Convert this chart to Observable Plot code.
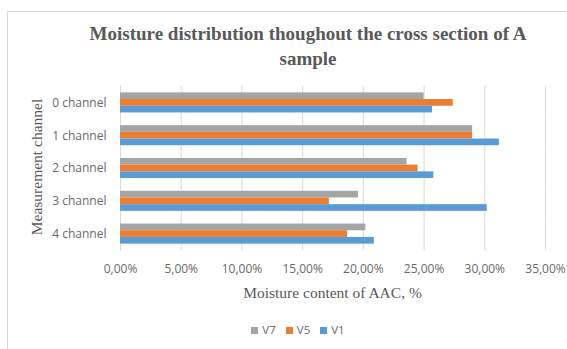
<!DOCTYPE html>
<html>
<head>
<meta charset="utf-8">
<script src="https://cdn.jsdelivr.net/npm/d3@7"></script>
<script src="https://cdn.jsdelivr.net/npm/@observablehq/plot@0.6"></script>
<style>
  html, body { margin: 0; padding: 0; background: #fff; }
  #page { position: relative; width: 567px; height: 349px; overflow: hidden; background: #fff; }
  #frame { position: absolute; left: 7px; top: 11px; width: 600px; height: 345px; border: 1px solid #d9d9d9; box-sizing: border-box; }
  #title { position: absolute; left: 7px; width: 602px; top: 21px; text-align: center;
           font-family: "Liberation Serif", "Times New Roman", serif; font-weight: bold;
           font-size: 19px; line-height: 25px; color: #595959; }
  #ytitle { position: absolute; left: 37px; top: 167px; transform: translate(-50%, -50%) rotate(-90deg);
            white-space: nowrap; font-family: "Liberation Serif", serif; font-size: 15.5px; color: #595959; }
  #xtitle { position: absolute; left: 120px; width: 425px; top: 284px; text-align: center;
            font-family: "Liberation Serif", serif; font-size: 15.5px; color: #595959; }
  #legend { position: absolute; left: 7px; width: 582px; top: 322px; text-align: center;
            font-family: "Open Sans", sans-serif; font-size: 11.5px; color: #6a6a6a; }
  #legend span.item { margin: 0 5px; }
  #legend span.sw { display: inline-block; width: 7px; height: 7px; margin-right: 4px; vertical-align: 0px; }
  #chart { position: absolute; left: 0; top: 0; }
</style>
</head>
<body>
<div id="page">
  <div id="frame"></div>
  <div id="chart"></div>
  <div id="title">Moisture distribution thoughout the cross section of A<br>sample</div>
  <div id="ytitle">Measurement channel</div>
  <div id="xtitle">Moisture content of AAC, %</div>
  <div id="legend"></div>
</div>
<script>
// Measurement channels, top to bottom
const channels = ["0 channel", "1 channel", "2 channel", "3 channel", "4 channel"];
// Series, in the order they are stacked within each channel group
const seriesNames = ["V7", "V5", "V1"];
const seriesColors = ["#a5a5a5", "#ed7d31", "#5b9bd5"];
// Moisture content (fraction) per channel
const v7 = [0.250, 0.290, 0.236, 0.196, 0.202];
const v5 = [0.274, 0.290, 0.245, 0.172, 0.187];
const v1 = [0.257, 0.312, 0.258, 0.302, 0.209];
// X axis ticks
const xTicks = [0, 0.05, 0.10, 0.15, 0.20, 0.25, 0.30, 0.35];

const values = {V7: v7, V5: v5, V1: v1};
const rows = [];
channels.forEach((c, i) => {
  seriesNames.forEach(s => rows.push({channel: c, series: s, value: values[s][i]}));
});

const pct = d3.formatLocale({decimal: ",", thousands: " ", grouping: [3], currency: ["", ""]}).format(".2%");

const chart = Plot.plot({
  width: 567,
  height: 280,
  marginLeft: 120,
  marginRight: 22,
  marginTop: 86,
  marginBottom: 30,
  style: {background: "transparent", fontFamily: "'Open Sans', sans-serif", fontSize: "12px", color: "#6a6a6a"},
  x: {domain: [0, 0.35]},
  y: {domain: seriesNames, paddingInner: 0, paddingOuter: 0.95, round: false, axis: null},
  fy: {domain: channels, padding: 0, round: false},
  color: {domain: seriesNames, range: seriesColors},
  marks: [
    Plot.gridX(xTicks, {stroke: "#d9d9d9", strokeOpacity: 1}),
    Plot.barX(rows, {x: "value", y: "series", fy: "channel", fill: "series", insetTop: 0, insetBottom: 0}),
    Plot.axisFy({anchor: "left", tickSize: 0, tickPadding: 14, label: null}),
    Plot.axisX(xTicks, {tickSize: 0, tickPadding: 14, tickFormat: pct, label: null})
  ]
});
document.getElementById("chart").appendChild(chart);

const legend = document.getElementById("legend");
seriesNames.forEach((s, i) => {
  const item = document.createElement("span");
  item.className = "item";
  const sw = document.createElement("span");
  sw.className = "sw";
  sw.style.background = seriesColors[i];
  item.appendChild(sw);
  item.appendChild(document.createTextNode(s));
  legend.appendChild(item);
});
</script>
</body>
</html>
